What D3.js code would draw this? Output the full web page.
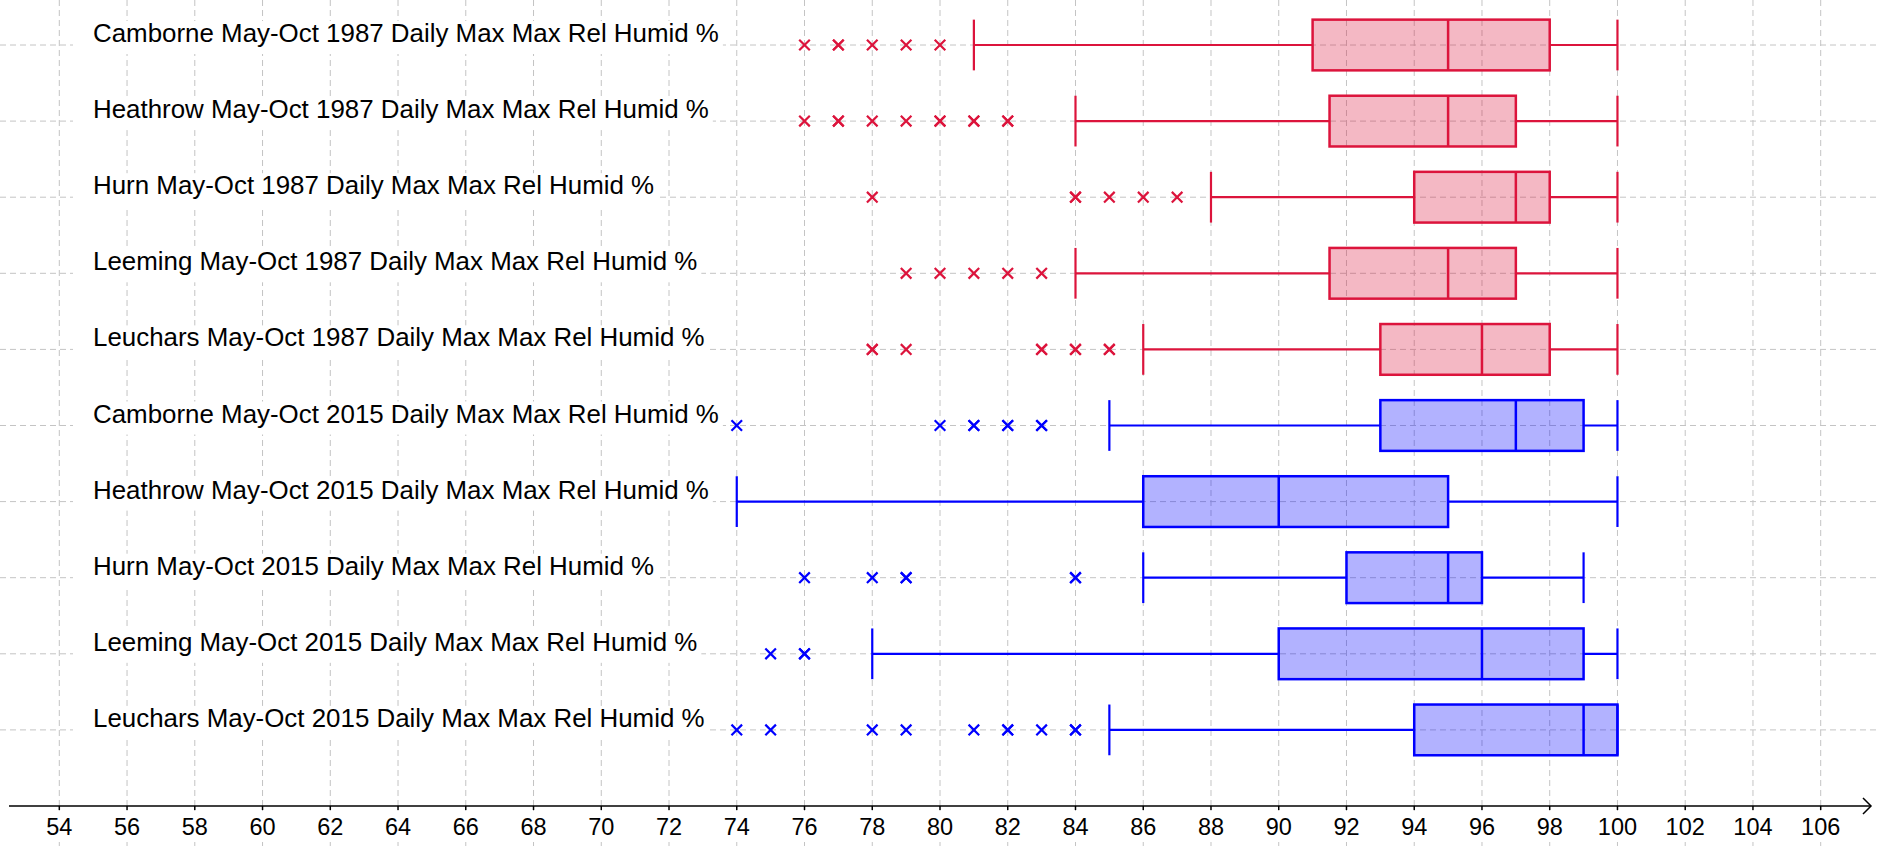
<!DOCTYPE html>
<html>
<head>
<meta charset="utf-8">
<script src="https://cdn.jsdelivr.net/npm/d3@7"></script>
<style>
  html, body { margin: 0; padding: 0; background: #fff; }
  svg { display: block; }
  text { font-family: "Liberation Sans", Arial, sans-serif; }
</style>
</head>
<body>
<svg id="chart" width="1880" height="846"></svg>
<script>
// ---- data ----
const labels = [
  "Camborne May-Oct 1987 Daily Max Max Rel Humid %",
  "Heathrow May-Oct 1987 Daily Max Max Rel Humid %",
  "Hurn May-Oct 1987 Daily Max Max Rel Humid %",
  "Leeming May-Oct 1987 Daily Max Max Rel Humid %",
  "Leuchars May-Oct 1987 Daily Max Max Rel Humid %",
  "Camborne May-Oct 2015 Daily Max Max Rel Humid %",
  "Heathrow May-Oct 2015 Daily Max Max Rel Humid %",
  "Hurn May-Oct 2015 Daily Max Max Rel Humid %",
  "Leeming May-Oct 2015 Daily Max Max Rel Humid %",
  "Leuchars May-Oct 2015 Daily Max Max Rel Humid %"
];
const years = [1987, 1987, 1987, 1987, 1987, 2015, 2015, 2015, 2015, 2015];
const mins    = [81, 84, 88, 84, 86, 85, 74, 86, 78, 85];
const q1s     = [91, 91.5, 94, 91.5, 93, 93, 86, 92, 90, 94];
const medians = [95, 95, 97, 95, 96, 97, 90, 95, 96, 99];
const q3s     = [98, 97, 98, 97, 98, 99, 95, 96, 99, 100];
const maxs    = [100, 100, 100, 100, 100, 100, 100, 99, 100, 100];
const outliers = [
  [76, 77, 77, 78, 79, 80],
  [76, 77, 77, 78, 79, 80, 80, 81, 81, 82, 82],
  [78, 84, 84, 85, 86, 87],
  [79, 80, 81, 82, 83],
  [78, 78, 79, 83, 83, 84, 84, 85, 85],
  [74, 80, 81, 81, 82, 82, 83, 83],
  [],
  [76, 78, 79, 79, 84, 84],
  [75, 76, 76],
  [74, 75, 78, 79, 81, 82, 82, 83, 84, 84]
];
const xTicks = d3.range(54, 107, 2);

// ---- styles ----
const colorByYear = { 1987: "#DC143C", 2015: "#0000FF" };
const gridColor = "#c4c4c4";

const W = 1880, H = 846;
const svg = d3.select("#chart");

const x = d3.scaleLinear().domain([54, 106]).range([59.3, 1820.7]);
const y = d3.scaleLinear().domain([0, 10]).range([806, 45]);
const rowPos = i => 10 - i; // first label at top
const halfH = (y(0) - y(1)) / 3;

// grid: vertical
svg.append("g").selectAll("line").data(d3.range(52, 112, 2)).join("line")
  .attr("x1", d => x(d)).attr("x2", d => x(d))
  .attr("y1", 0).attr("y2", H)
  .attr("stroke", gridColor).attr("stroke-width", 1)
  .attr("stroke-dasharray", "6,4");
// grid: horizontal
svg.append("g").selectAll("line").data(d3.range(1, 11)).join("line")
  .attr("x1", 0).attr("x2", W)
  .attr("y1", d => y(d)).attr("y2", d => y(d))
  .attr("stroke", gridColor).attr("stroke-width", 1)
  .attr("stroke-dasharray", "6,4");

// labels with white background
const lab = svg.append("g");
labels.forEach((t, i) => {
  const yy = y(rowPos(i));
  const g = lab.append("g");
  const rect = g.append("rect").attr("fill", "#fff");
  const txt = g.append("text")
    .attr("x", 93).attr("y", yy - 3)
    .attr("font-size", 25.9).attr("fill", "#000")
    .text(t);
  const bb = txt.node().getBBox();
  rect.attr("x", 73).attr("y", yy - 24).attr("width", bb.x + bb.width + 4 - 73).attr("height", 33);
});

// axis
const axisY = y(0);
const ax = svg.append("g");
ax.append("line").attr("x1", 9).attr("x2", 1871).attr("y1", axisY).attr("y2", axisY)
  .attr("stroke", "#000").attr("stroke-width", 1.5);
ax.append("path")
  .attr("d", `M${1863},${axisY - 8} L${1871},${axisY} L${1863},${axisY + 8}`)
  .attr("fill", "none").attr("stroke", "#000").attr("stroke-width", 1.5);
const tk = ax.selectAll("g.tick").data(xTicks).join("g").attr("class", "tick");
tk.each(function(d) {
  const g = d3.select(this);
  const rect = g.append("rect").attr("fill", "#fff");
  const t = g.append("text").attr("x", x(d)).attr("y", axisY + 29)
    .attr("text-anchor", "middle").attr("font-size", 23.5).attr("fill", "#000").text(d);
  const bb = t.node().getBBox();
  rect.attr("x", bb.x - 2).attr("y", axisY + 5).attr("width", bb.width + 4).attr("height", 31);
  g.append("line").attr("x1", x(d)).attr("x2", x(d)).attr("y1", axisY).attr("y2", axisY + 4)
    .attr("stroke", "#000").attr("stroke-width", 1.5);
});

// boxes
const bx = svg.append("g");
labels.forEach((t, i) => {
  const c = colorByYear[years[i]];
  const yy = y(rowPos(i));
  const g = bx.append("g");
  // whiskers
  g.append("line").attr("x1", x(mins[i])).attr("x2", x(q1s[i])).attr("y1", yy).attr("y2", yy)
    .attr("stroke", c).attr("stroke-width", 2.2);
  g.append("line").attr("x1", x(q3s[i])).attr("x2", x(maxs[i])).attr("y1", yy).attr("y2", yy)
    .attr("stroke", c).attr("stroke-width", 2.2);
  [mins[i], maxs[i]].forEach(v => {
    g.append("line").attr("x1", x(v)).attr("x2", x(v)).attr("y1", yy - halfH).attr("y2", yy + halfH)
      .attr("stroke", c).attr("stroke-width", 2.2);
  });
  // box
  g.append("rect").attr("x", x(q1s[i])).attr("y", yy - halfH)
    .attr("width", x(q3s[i]) - x(q1s[i])).attr("height", 2 * halfH)
    .attr("fill", c).attr("fill-opacity", 0.3)
    .attr("stroke", c).attr("stroke-width", 2.5);
  g.append("line").attr("x1", x(medians[i])).attr("x2", x(medians[i]))
    .attr("y1", yy - halfH).attr("y2", yy + halfH)
    .attr("stroke", c).attr("stroke-width", 2.5);
  // outliers
  const s = 5.3;
  outliers[i].forEach(v => {
    const cx = x(v);
    g.append("path")
      .attr("d", `M${cx - s},${yy - s}L${cx + s},${yy + s}M${cx - s},${yy + s}L${cx + s},${yy - s}`)
      .attr("stroke", c).attr("stroke-width", 2.2).attr("fill", "none");
  });
});
</script>
</body>
</html>
